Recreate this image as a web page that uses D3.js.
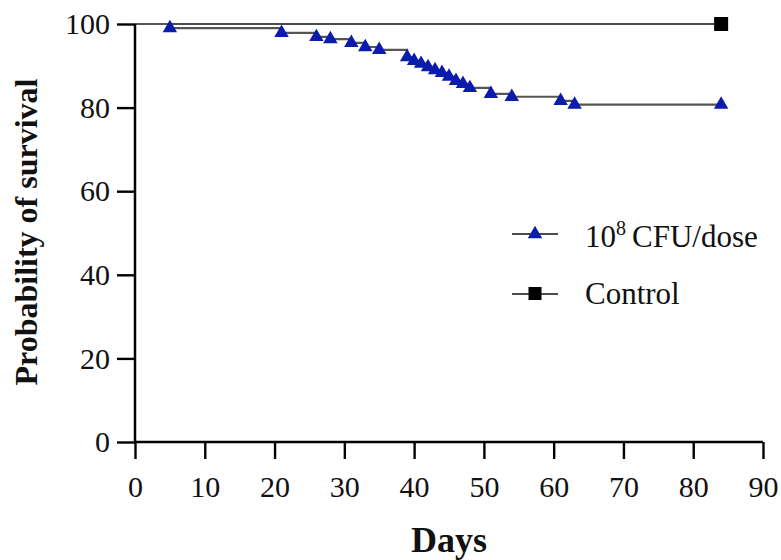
<!DOCTYPE html>
<html>
<head>
<meta charset="utf-8">
<script src="https://cdn.jsdelivr.net/npm/d3@7"></script>
<style>
    body { margin: 0; background: #fff; }
    svg text { font-family: "Liberation Serif", "Times New Roman", Times, serif; }
</style>
</head>
<body>
<div id="chart"></div>
<script>
// treated group: event days and survival after each event (%)
const treatedDays = [5, 21, 26, 28, 31, 33, 35, 39, 40, 41, 42, 43, 44, 45, 46, 47, 48, 51, 54, 61, 63, 84];
const treatedSurvival = [99.0, 97.9, 96.9, 96.4, 95.5, 94.5, 93.8, 92.1, 91.2, 90.5, 89.7, 89.0, 88.3, 87.4, 86.4, 85.7, 84.7, 83.3, 82.6, 81.6, 80.7, 80.7];
// control group
const controlDays = [0, 84];
const controlSurvival = [100, 100];

const xTicks = [0, 10, 20, 30, 40, 50, 60, 70, 80, 90];
const yTicks = [0, 20, 40, 60, 80, 100];
const legendLabels = ["CFU/dose", "Control"];

const width = 781;
const height = 560;
const margin = { top: 24, right: 18, bottom: 118, left: 135 };
const blue = "#0b1cad";
const serif = '"Liberation Serif", "Times New Roman", Times, serif';

const svg = d3
    .select("#chart")
    .append("svg")
    .attr("width", width)
    .attr("height", height);

const xScale = d3
    .scaleLinear()
    .domain([0, 90])
    .range([margin.left, width - margin.right]);

const yScale = d3
    .scaleLinear()
    .domain([0, 100])
    .range([height - margin.bottom, margin.top]);

// curves
const step = d3
    .line()
    .x(d => xScale(d[0]))
    .y(d => yScale(d[1]))
    .curve(d3.curveStepAfter);

const treated = [[0, 100], ...treatedDays.map((d, i) => [d, treatedSurvival[i]])];
const control = controlDays.map((d, i) => [d, controlSurvival[i]]);

svg.append("path")
    .attr("d", step(control))
    .attr("fill", "none")
    .attr("stroke", "#111")
    .attr("stroke-width", 1.6);

svg.append("path")
    .attr("d", step(treated))
    .attr("fill", "none")
    .attr("stroke", "#555")
    .attr("stroke-width", 2.2);

const triangle = d3.symbol().type(d3.symbolTriangle).size(90);

svg.selectAll(".tri")
    .data(treated.slice(1))
    .enter()
    .append("path")
    .attr("class", "tri")
    .attr("d", triangle)
    .attr("transform", d => `translate(${xScale(d[0])},${yScale(d[1])})`)
    .attr("fill", blue);

svg.append("rect")
    .attr("x", xScale(84) - 7)
    .attr("y", yScale(100) - 7)
    .attr("width", 14)
    .attr("height", 14)
    .attr("fill", "#000");

// axes
const xAxis = d3.axisBottom(xScale).tickValues(xTicks).tickSize(17).tickPadding(17);
const yAxis = d3.axisLeft(yScale).tickValues(yTicks).tickSize(18).tickPadding(7);

const gx = svg.append("g")
    .attr("transform", `translate(0, ${yScale(0)})`)
    .call(xAxis);

const gy = svg.append("g")
    .attr("transform", `translate(${xScale(0)}, 0)`)
    .call(yAxis);

[gx, gy].forEach(g => {
    g.attr("font-family", serif);
    g.select(".domain").attr("stroke", "#000").attr("stroke-width", 2.5);
    g.selectAll(".tick line").attr("stroke", "#000").attr("stroke-width", 2.4);
    g.selectAll(".tick text")
        .attr("fill", "#111")
        .style("font-family", serif)
        .style("font-size", "30px");
});
gx.select(".domain").attr("d", `M${xScale(0)},0H${xScale(90)}`);
gy.select(".domain").attr("d", `M0,${yScale(0)}V${yScale(100)}`);

svg.append("text")
    .attr("x", (xScale(0) + xScale(90)) / 2)
    .attr("y", 552)
    .attr("text-anchor", "middle")
    .style("font-size", "36px")
    .style("font-weight", "bold")
    .attr("fill", "#111")
    .text("Days");

svg.append("text")
    .attr("transform", `translate(37, ${yScale(50) - 1}) rotate(-90)`)
    .attr("text-anchor", "middle")
    .style("font-size", "32px")
    .style("font-weight", "bold")
    .attr("fill", "#111")
    .text("Probability of survival");

// legend
const legend = svg.append("g").attr("transform", "translate(512, 234)");

legend.append("line").attr("x1", 0).attr("x2", 46).attr("y1", 0).attr("y2", 0)
    .attr("stroke", "#111").attr("stroke-width", 1.6);
legend.append("path").attr("d", triangle).attr("transform", "translate(23,0)").attr("fill", blue);

const t1 = legend.append("text").attr("x", 73).attr("y", 13).style("font-size", "31px").attr("fill", "#111");
t1.append("tspan").text("10");
t1.append("tspan").attr("dy", -12).style("font-size", "20px").text("8");
t1.append("tspan").attr("dy", 12).attr("dx", 6).text(legendLabels[0]);

legend.append("line").attr("x1", 0).attr("x2", 46).attr("y1", 60).attr("y2", 60)
    .attr("stroke", "#111").attr("stroke-width", 1.6);
legend.append("rect").attr("x", 16.5).attr("y", 53).attr("width", 13).attr("height", 13).attr("fill", "#000");
legend.append("text").attr("x", 73).attr("y", 70).style("font-size", "31px").attr("fill", "#111")
    .text(legendLabels[1]);
</script>
</body>
</html>
